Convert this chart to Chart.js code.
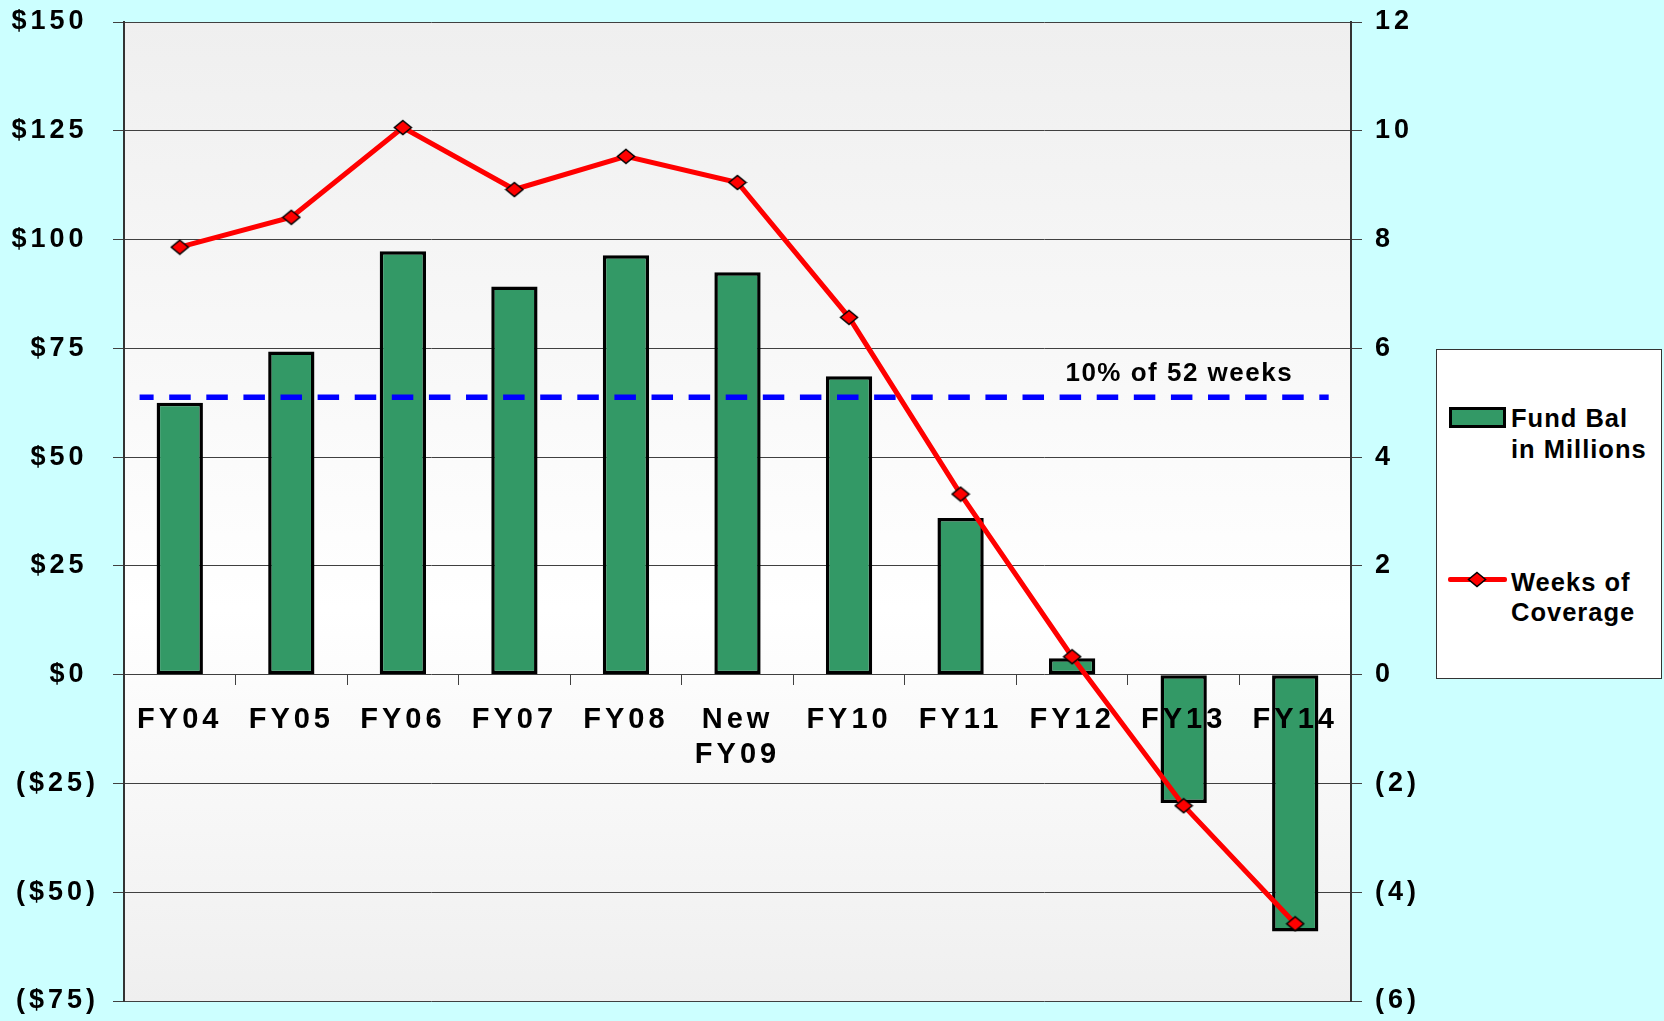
<!DOCTYPE html>
<html>
<head>
<meta charset="utf-8">
<title>Fund Balance and Weeks of Coverage</title>
<script src="https://cdn.jsdelivr.net/npm/chart.js@4.4.1/dist/chart.umd.min.js"></script>
<style>
  html, body { margin: 0; padding: 0; background: #ccffff; overflow: hidden; }
  #wrap { position: relative; width: 1664px; height: 1021px; }
  #legend {
    position: absolute; left: 1436px; top: 349px; width: 226px; height: 330px;
    box-sizing: border-box; background: #fff; border: 1px solid #333;
    font: bold 25.5px "Liberation Sans", Arial, sans-serif; letter-spacing: 1px; color: #000;
  }
  #legend .txt { position: absolute; left: 74px; line-height: 30.5px; white-space: nowrap; }
  #legend .box { position: absolute; left: 12px; top: 57px; width: 57px; height: 21px; box-sizing: border-box;
    background: #339966; border: 3px solid #000; }
  #legend .ln { position: absolute; left: 11px; top: 226.5px; width: 59px; height: 5px; background: #ff0000; border-radius: 2px; }
  #legend canvas { position: absolute; left: 30px; top: 220.5px; }
</style>
</head>
<body>
<div id="wrap">
  <canvas id="chart"></canvas>
  <div id="legend">
    <div class="box"></div>
    <div class="txt" style="top:53px">Fund Bal<br>in Millions</div>
    <div class="ln"></div>
    <div class="txt" style="top:216.5px">Weeks of<br>Coverage</div>
  </div>
</div>
<script>
// data
const categories = ['FY04', 'FY05', 'FY06', 'FY07', 'FY08', ['New', 'FY09'], 'FY10', 'FY11', 'FY12', 'FY13', 'FY14'];
const fundBalance = [62.5, 74.3, 97.3, 89.2, 96.4, 92.5, 68.6, 36.0, 3.8, -29.5, -59.0];
const weeksCoverage = [7.86, 8.41, 10.06, 8.92, 9.53, 9.05, 6.57, 3.32, 0.33, -2.41, -4.58];
const fundAxis = [-75, 150, 25];   // min, max, step
const weeksAxis = [-6, 12, 2];
const targetWeeks = 5.1;
const targetLabel = '10% of 52 weeks';

const FONT = '"Liberation Sans", Arial, sans-serif';

// flattened diamond marker, same one for chart and legend
function makeDiamond() {
    const c = document.createElement('canvas');
    c.width = 20; c.height = 17;
    const d = c.getContext('2d');
    d.beginPath();
    d.moveTo(10, 1.5); d.lineTo(18.5, 8.5); d.lineTo(10, 15.5); d.lineTo(1.5, 8.5);
    d.closePath();
    d.fillStyle = '#ff0000'; d.fill();
    d.lineWidth = 1.5; d.strokeStyle = '#000'; d.stroke();
    return c;
}
const diamond = makeDiamond();
document.getElementById('legend').appendChild(makeDiamond());

function fmtDollar(v) {
    return v < 0 ? '($' + (-v) + ')' : '$' + v + ' ';
}
function fmtWeeks(v) {
    return v < 0 ? '(' + (-v) + ')' : String(v);
}

// plot area gradient + wide tracking of the tick text
const plotBackground = {
    id: 'plotBackground',
    beforeLayout(chart) {
        chart.ctx.letterSpacing = '4px';
    },
    beforeDraw(chart) {
        const { ctx, chartArea: a } = chart;
        ctx.save();
        const g = ctx.createLinearGradient(0, a.top, 0, a.bottom);
        g.addColorStop(0, '#efefef');
        g.addColorStop(0.6, '#ffffff');
        g.addColorStop(1, '#efefef');
        ctx.fillStyle = g;
        ctx.fillRect(a.left, a.top, a.width, a.height);
        ctx.restore();
        ctx.letterSpacing = '4px';
    }
};

// dashed target line, drawn over the bars and under the red line
const targetLine = {
    id: 'targetLine',
    beforeDatasetDraw(chart, args) {
        if (args.index !== 1) return;
        const ctx = chart.ctx;
        const x = chart.scales.x;
        const yPix = chart.scales.y1.getPixelForValue(targetWeeks);
        ctx.save();
        ctx.setLineDash([21.5, 15.6]);
        ctx.lineDashOffset = 7.5;
        ctx.strokeStyle = '#0000ff';
        ctx.lineWidth = 5.5;
        ctx.beginPath();
        ctx.moveTo(x.getPixelForValue(-0.36), yPix);
        ctx.lineTo(x.getPixelForValue(10.3), yPix);
        ctx.stroke();
        ctx.setLineDash([]);
        ctx.letterSpacing = '1.5px';
        ctx.font = 'bold 26px ' + FONT;
        ctx.fillStyle = '#000';
        ctx.textAlign = 'left';
        ctx.textBaseline = 'alphabetic';
        ctx.fillText(targetLabel, x.getPixelForValue(7.94), yPix - 16);
        ctx.restore();
    }
};

const tickFont = { family: FONT, size: 27, weight: 'bold' };

// keep the plot box fixed, labels may hang over the padding
function noPad(scale, width) {
    scale.width = width;
    scale.paddingTop = 0;
    scale.paddingBottom = 0;
}

new Chart(document.getElementById('chart'), {
    type: 'bar',
    data: {
        labels: categories,
        datasets: [{
            type: 'bar',
            label: 'Fund Bal in Millions',
            data: fundBalance,
            yAxisID: 'y',
            backgroundColor: '#339966',
            borderColor: '#000000',
            borderWidth: 3.5,
            borderSkipped: false,
            barPercentage: 0.415,
            categoryPercentage: 1,
            order: 1
        }, {
            type: 'line',
            label: 'Weeks of Coverage',
            data: weeksCoverage,
            yAxisID: 'y1',
            borderColor: '#ff0000',
            borderWidth: 5,
            tension: 0,
            pointStyle: diamond,
            pointRadius: 8,
            order: 0
        }]
    },
    options: {
        responsive: true,
        maintainAspectRatio: false,
        animation: false,
        layout: { padding: { top: 22, bottom: 20, left: 0, right: 0 } },
        plugins: {
            legend: { display: false },
            tooltip: { enabled: false }
        },
        scales: {
            x: {
                position: { y: 0 },
                offset: true,
                grid: { offset: true, drawOnChartArea: false, tickLength: 10, color: '#404040', lineWidth: 1 },
                border: { display: false },
                ticks: {
                    z: 1,
                    color: '#000',
                    font: { family: FONT, size: 29, weight: 'bold', lineHeight: 1.23 },
                    padding: 17,
                    maxRotation: 0,
                    autoSkip: false
                }
            },
            y: {
                position: 'left',
                min: fundAxis[0],
                max: fundAxis[1],
                ticks: {
                    stepSize: fundAxis[2],
                    color: '#000',
                    font: tickFont,
                    padding: 14,
                    callback: (v) => fmtDollar(v)
                },
                grid: { color: '#404040', lineWidth: 1, tickLength: 11 },
                border: { color: '#333333', width: 2 },
                afterFit(scale) { noPad(scale, 124); }
            },
            y1: {
                position: 'right',
                min: weeksAxis[0],
                max: weeksAxis[1],
                ticks: {
                    stepSize: weeksAxis[2],
                    color: '#000',
                    font: tickFont,
                    padding: 13,
                    callback: (v) => fmtWeeks(v)
                },
                grid: { drawOnChartArea: false, color: '#404040', lineWidth: 1, tickLength: 11 },
                border: { color: '#333333', width: 2 },
                afterFit(scale) { noPad(scale, 313); }
            }
        }
    },
    plugins: [plotBackground, targetLine]
});
</script>
</body>
</html>
